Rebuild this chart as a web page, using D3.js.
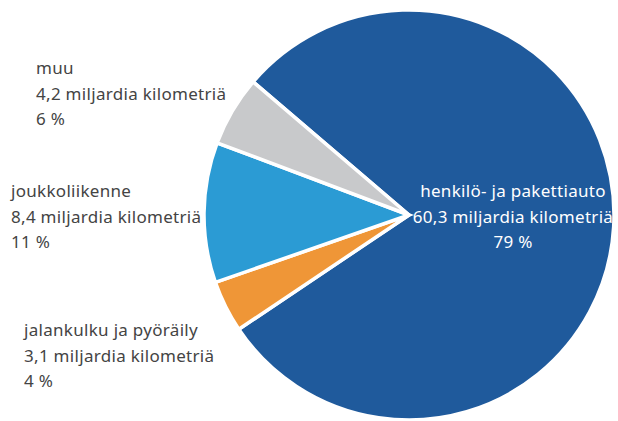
<!DOCTYPE html>
<html>
<head>
<meta charset="utf-8">
<script src="https://cdn.jsdelivr.net/npm/d3@7"></script>
<style>
  body { margin: 0; background: #fff; }
  svg { display: block; }
  text { font-family: "Noto Sans", "Open Sans", sans-serif; font-size: 17px; letter-spacing: 0.3px; }
</style>
</head>
<body>
<div id="chart"></div>
<script>
var categories = ["henkilö- ja pakettiauto", "jalankulku ja pyöräily", "joukkoliikenne", "muu"];
var values = [60.3, 3.1, 8.4, 4.2];
var valueLabels = ["60,3 miljardia kilometriä", "3,1 miljardia kilometriä", "8,4 miljardia kilometriä", "4,2 miljardia kilometriä"];
var shareLabels = ["79 %", "4 %", "11 %", "6 %"];

var colors = ["#1f5a9c", "#ef9637", "#2b9bd4", "#c8c9cb"];

var width = 618,
    height = 421,
    radius = 205,
    cx = 409,
    cy = 215;

var startAngle = -49.5 * Math.PI / 180;

var pie = d3.pie()
    .sort(null)
    .startAngle(startAngle)
    .endAngle(startAngle + 2 * Math.PI);

var arc = d3.arc()
    .innerRadius(0)
    .outerRadius(radius);

var svg = d3.select("#chart").append("svg")
    .attr("width", width)
    .attr("height", height);

var g = svg.append("g")
    .attr("transform", "translate(" + cx + "," + cy + ")");

var arcs = pie(values);

g.selectAll("path")
    .data(arcs)
  .enter().append("path")
    .attr("d", arc)
    .style("fill", function(d, i) { return colors[i]; })
    .style("stroke", "#fff")
    .style("stroke-width", 3.5)
    .style("stroke-linejoin", "miter");

// label anchors (x, first baseline, text-anchor), one per slice
var labelX = [513, 24, 11, 36];
var labelY = [197, 336, 197, 74];
var labelAnchor = ["middle", "start", "start", "start"];
var labelColor = ["#ffffff", "#444444", "#444444", "#444444"];

var labels = svg.selectAll("text.label")
    .data(arcs)
  .enter().append("text")
    .attr("class", "label")
    .attr("text-anchor", function(d, i) { return labelAnchor[i]; })
    .style("fill", function(d, i) { return labelColor[i]; });

labels.each(function(d, i) {
  var t = d3.select(this);
  [categories[i], valueLabels[i], shareLabels[i]].forEach(function(line, k) {
    t.append("tspan")
      .attr("x", labelX[i])
      .attr("y", labelY[i] + k * 25.5)
      .text(line);
  });
});
</script>
</body>
</html>
